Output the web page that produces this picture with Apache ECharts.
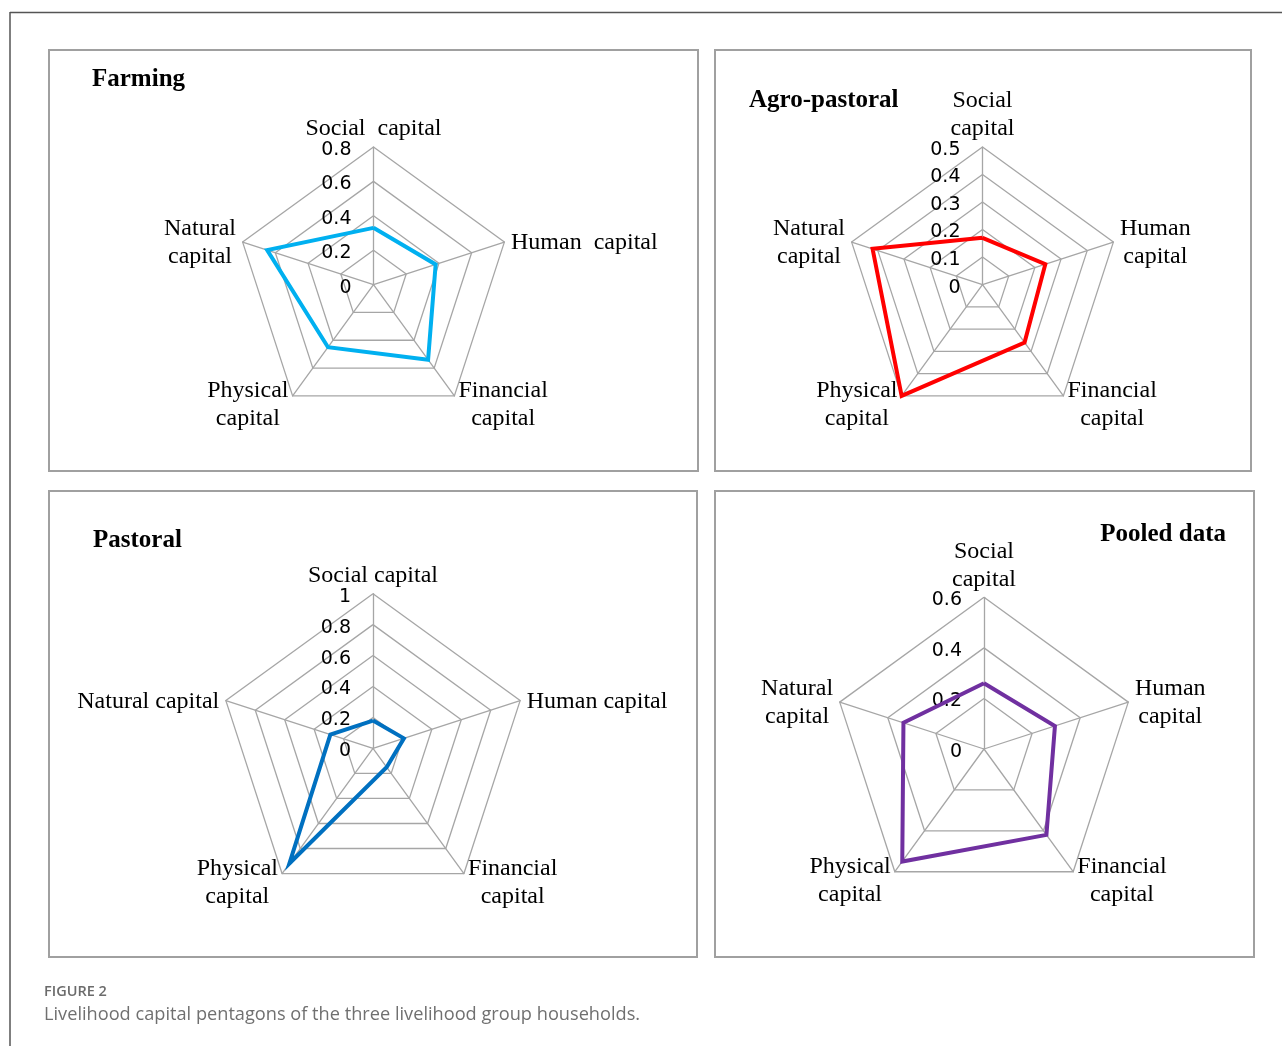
<!DOCTYPE html>
<html>
<head>
<meta charset="utf-8">
<title>Livelihood capital pentagons</title>
<script src="https://cdn.jsdelivr.net/npm/echarts@6/dist/echarts.min.js"></script>
<style>
  html, body { margin: 0; padding: 0; background: #ffffff; }
  #chart { width: 1282px; height: 1046px; }
</style>
</head>
<body>
<div id="chart"></div>
<script>
// Capital dimensions, listed in the order the radar places them (counter-clockwise from the top)
const categories = ['Social capital', 'Natural capital', 'Physical capital', 'Financial capital', 'Human capital'];

// Axis names as printed in each panel
const farmingNames  = ['Social  capital', 'Natural\ncapital', 'Physical\ncapital', 'Financial\ncapital', 'Human  capital'];
const agroNames     = ['Social\ncapital', 'Natural\ncapital', 'Physical\ncapital', 'Financial\ncapital', 'Human\ncapital'];
const pastoralNames = ['Social capital', 'Natural capital', 'Physical\ncapital', 'Financial\ncapital', 'Human capital'];
const pooledNames   = ['Social\ncapital', 'Natural\ncapital', 'Physical\ncapital', 'Financial\ncapital', 'Human\ncapital'];

// Capital index values per livelihood group
const farming      = [0.33, 0.65, 0.45, 0.54, 0.38];
const agroPastoral = [0.17, 0.42, 0.50, 0.26, 0.24];
const pastoral     = [0.18, 0.29, 0.92, 0.15, 0.21];
const pooled       = [0.26, 0.335, 0.55, 0.42, 0.295];

// Scale of each pentagon: maximum and step between rings
const farmingScale  = { max: 0.8, step: 0.2 };
const agroScale     = { max: 0.5, step: 0.1 };
const pastoralScale = { max: 1.0, step: 0.2 };
const pooledScale   = { max: 0.6, step: 0.2 };

const GRID = '#a6a6a6';
const SERIF = '"Liberation Serif", "Times New Roman", serif';
const SANS = '"Open Sans", "Noto Sans", sans-serif';
const TICK_FONT = '"DejaVu Sans", "Open Sans", sans-serif';

function makeRadar(names, scale, center, radius) {
  return {
    center: center,
    radius: radius,
    startAngle: 90,
    shape: 'polygon',
    splitNumber: Math.round(scale.max / scale.step),
    nameGap: 7,
    indicator: names.map(function (n, i) {
      return {
        name: n, min: 0, max: scale.max,
        nameMoveOverlap: false,
        axisLabel: { show: i === 0 }
      };
    }),
    axisName: {
      formatter: function (v) {
        return v.split('\n').map(function (s) { return '{c|' + s + '}'; }).join('\n');
      },
      rich: {
        c: {
          align: 'center', fontFamily: SERIF, fontSize: 24, lineHeight: 28,
          color: '#000', padding: [6, 0, 0, 0]
        }
      }
    },
    axisLine: { show: true, lineStyle: { color: GRID, width: 1.3 } },
    axisTick: { show: false },
    axisLabel: {
      show: false,
      margin: 22,
      color: '#000',
      formatter: function (v) { return '{t|' + String(parseFloat(Number(v).toFixed(4))) + '}'; },
      rich: {
        t: { fontFamily: TICK_FONT, fontSize: 19, lineHeight: 22, color: '#000', padding: [6, 0, 0, 0] }
      }
    },
    splitLine: { show: true, lineStyle: { color: GRID, width: 1.3 } },
    splitArea: { show: false }
  };
}

function makeSeries(idx, values, color) {
  return {
    type: 'radar',
    radarIndex: idx,
    symbol: 'none',
    silent: true,
    lineStyle: { color: color, width: 4, join: 'miter' },
    data: [{ value: values, name: categories.join(' / ') }]
  };
}

function panelRect(x, y, w, h) {
  return {
    type: 'rect',
    shape: { x: x, y: y, width: w, height: h },
    style: { fill: 'none', stroke: '#a0a0a0', lineWidth: 2 },
    silent: true
  };
}

function heading(text, x, y, align) {
  return {
    type: 'text',
    x: x, y: y,
    style: {
      text: text,
      font: 'bold 25px ' + SERIF,
      fill: '#000',
      align: align || 'left',
      verticalAlign: 'middle'
    },
    silent: true
  };
}

const chart = echarts.init(document.getElementById('chart'), null, { renderer: 'canvas' });

chart.setOption({
  backgroundColor: '#ffffff',
  animation: false,
  radar: [
    makeRadar(farmingNames,  farmingScale,  [373.5, 284.6], 137.6),
    makeRadar(agroNames,     agroScale,     [982.5, 284.6], 137.6),
    makeRadar(pastoralNames, pastoralScale, [373, 748.4], 154.7),
    makeRadar(pooledNames,   pooledScale,   [984, 749], 151.7)
  ],
  series: [
    makeSeries(0, farming, '#00b0f0'),
    makeSeries(1, agroPastoral, '#ff0000'),
    makeSeries(2, pastoral, '#0070c0'),
    makeSeries(3, pooled, '#7030a0')
  ],
  graphic: [
    // outer figure frame
    { type: 'line', shape: { x1: 10, y1: 12.5, x2: 1282, y2: 12.5 }, style: { stroke: '#555', lineWidth: 1.5 }, silent: true },
    { type: 'line', shape: { x1: 10, y1: 12, x2: 10, y2: 1046 }, style: { stroke: '#555', lineWidth: 1.5 }, silent: true },
    // panel frames
    panelRect(49, 50, 649, 421),
    panelRect(715, 50, 536, 421),
    panelRect(49, 491, 648, 466),
    panelRect(715, 491, 539, 466),
    // panel headings
    heading('Farming', 92, 80),
    heading('Agro-pastoral', 749, 101),
    heading('Pastoral', 93, 540.5),
    heading('Pooled data', 1226, 535, 'right'),
    // caption
    {
      type: 'text', x: 44, y: 992,
      style: { text: 'FIGURE 2', font: '600 14.5px ' + SANS, fill: '#6b6b6b', verticalAlign: 'middle' },
      silent: true
    },
    {
      type: 'text', x: 44, y: 1015,
      style: { text: 'Livelihood capital pentagons of the three livelihood group households.', font: '18.2px ' + SANS, fill: '#707070', verticalAlign: 'middle' },
      silent: true
    }
  ]
});
</script>
</body>
</html>
